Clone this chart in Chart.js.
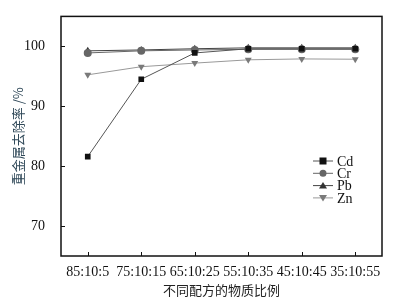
<!DOCTYPE html>
<html lang="zh">
<head>
    <meta charset="UTF-8">
    <title>重金属去除率</title>
    <style>
        body { margin: 0; padding: 0; background: #fff; }
        #wrap { width: 402px; height: 303px; }
    </style>
</head>
<body>
    <div id="wrap"><canvas id="grafica"></canvas></div>
    <script src="https://cdn.jsdelivr.net/npm/chart.js"></script>
    <script>
        // Datos
        const categorias = ['85:10:5', '75:10:15', '65:10:25', '55:10:35', '45:10:45', '35:10:55'];
        const cd = [81.6, 94.5, 98.9, 99.6, 99.6, 99.6];
        const cr = [98.9, 99.25, 99.4, 99.5, 99.5, 99.5];
        const pb = [99.25, 99.4, 99.6, 99.75, 99.75, 99.75];
        const zn = [95.25, 96.6, 97.2, 97.75, 97.9, 97.85];
        const ticksY = [70, 80, 90, 100];

        const serif = '"Liberation Serif", "DejaVu Serif", serif';

        // Marco, marcas hacia dentro y leyenda dentro del área
        const marco = {
            id: 'marco',
            afterDraw(chart) {
                const ctx = chart.ctx;
                const a = chart.chartArea;
                ctx.save();
                ctx.strokeStyle = '#111';
                ctx.lineWidth = 1.5;
                ctx.strokeRect(a.left, a.top, a.right - a.left, a.bottom - a.top);
                ctx.lineWidth = 1;
                const x = chart.scales.x, y = chart.scales.y;
                x.ticks.forEach((t, i) => {
                    const px = Math.round(x.getPixelForTick(i)) + 0.5;
                    ctx.beginPath(); ctx.moveTo(px, a.bottom); ctx.lineTo(px, a.bottom - 4); ctx.stroke();
                });
                y.ticks.forEach((t, i) => {
                    const py = Math.round(y.getPixelForTick(i)) + 0.5;
                    ctx.beginPath(); ctx.moveTo(a.left, py); ctx.lineTo(a.left + 4, py); ctx.stroke();
                });
                // leyenda
                let ly = 161;
                chart.data.datasets.forEach(ds => {
                    ctx.strokeStyle = ds.borderColor;
                    ctx.lineWidth = 1;
                    ctx.beginPath(); ctx.moveTo(313, ly); ctx.lineTo(333, ly); ctx.stroke();
                    ctx.fillStyle = ds.pointBackgroundColor;
                    const s = 3.5;
                    ctx.beginPath();
                    if (ds.pointStyle === 'rect') ctx.rect(323 - s, ly - s, 2 * s, 2 * s);
                    else if (ds.pointStyle === 'circle') ctx.arc(323, ly, s, 0, Math.PI * 2);
                    else if (ds.rotation === 180) { ctx.moveTo(323 - s - 0.5, ly - s + 0.5); ctx.lineTo(323 + s + 0.5, ly - s + 0.5); ctx.lineTo(323, ly + s); }
                    else { ctx.moveTo(323 - s - 0.5, ly + s - 0.5); ctx.lineTo(323 + s + 0.5, ly + s - 0.5); ctx.lineTo(323, ly - s); }
                    ctx.fill();
                    ctx.fillStyle = '#111';
                    ctx.font = '14px ' + serif;
                    ctx.textBaseline = 'middle';
                    ctx.fillText(ds.label, 337, ly + 1);
                    ly += 12.3;
                });
                ctx.restore();
            }
        };

        function serie(label, data, color, lineColor, style, rot) {
            return {
                label: label,
                data: data,
                borderColor: lineColor,
                borderWidth: 1,
                pointStyle: style,
                rotation: rot || 0,
                pointRadius: 4,
                pointBackgroundColor: color,
                pointBorderColor: color,
                pointBorderWidth: 0,
                tension: 0
            };
        }

        new Chart(document.getElementById('grafica'), {
            type: 'line',
            data: {
                labels: categorias,
                datasets: [
                    serie('Cd', cd, '#111', '#555', 'rect'),
                    serie('Cr', cr, '#666', '#666', 'circle'),
                    serie('Pb', pb, '#333', '#444', 'triangle'),
                    serie('Zn', zn, '#7a7a7a', '#999', 'triangle', 180)
                ]
            },
            options: {
                responsive: true,
                maintainAspectRatio: false,
                animation: false,
                layout: { padding: { top: 16, right: 20, left: 0, bottom: 0 } },
                plugins: {
                    legend: { display: false },
                    tooltip: { enabled: false }
                },
                scales: {
                    x: {
                        offset: true,
                        grid: { display: false },
                        border: { display: false },
                        ticks: { color: '#111', font: { family: serif, size: 14 }, padding: 0, maxRotation: 0, autoSkip: false },
                        title: { display: true, text: '不同配方的物质比例', color: '#222', font: { family: '"Noto Sans CJK SC"', size: 13 }, padding: { top: 2, bottom: 5 } },
                        afterFit(s) { s.height = 47; }
                    },
                    y: {
                        min: 65,
                        max: 105,
                        grid: { display: false },
                        border: { display: false },
                        afterBuildTicks(s) { s.ticks = ticksY.map(v => ({ value: v })); },
                        ticks: { color: '#111', font: { family: serif, size: 14 }, padding: 8 },
                        title: { display: true, text: '重金属去除率 /%', color: '#2f4858', font: { family: '"Noto Sans CJK SC"', size: 13 }, padding: { top: 10, bottom: 4 } },
                        afterFit(s) { s.width = 61; }
                    }
                }
            },
            plugins: [marco]
        });
    </script>
</body>
</html>
